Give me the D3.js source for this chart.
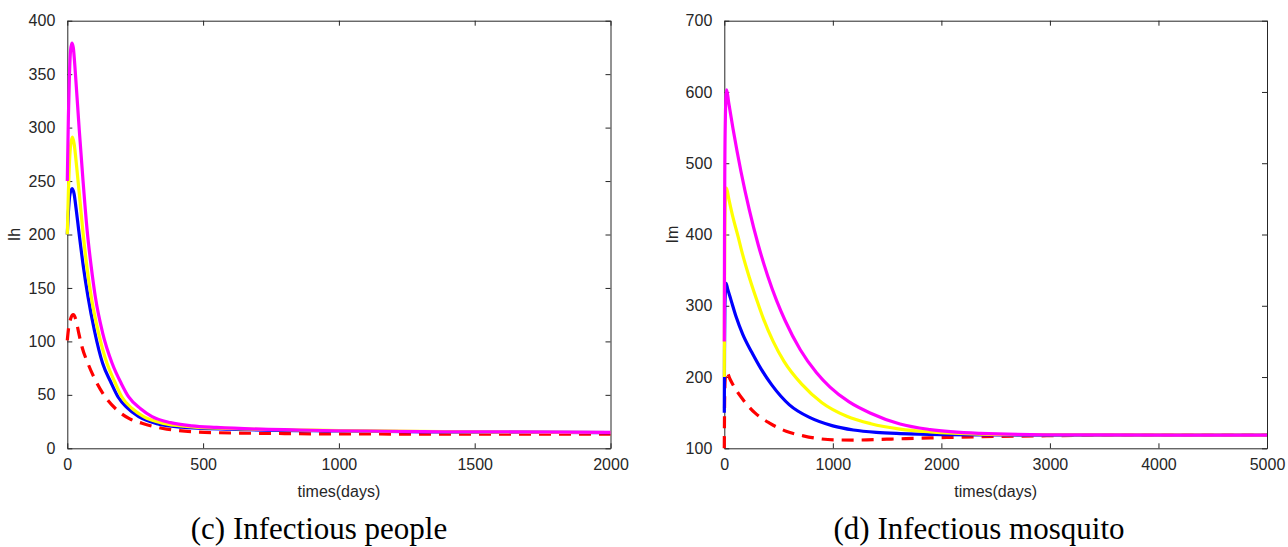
<!DOCTYPE html>
<html><head><meta charset="utf-8">
<script src="https://cdn.jsdelivr.net/npm/d3@7"></script>
<style>
body{margin:0;background:#fff}
</style>
</head><body>
<svg id="chart" width="1288" height="547"></svg>
<script>
// ---------- data: panel (c) Infectious people, Ih ----------
const ihXTicks = [0, 500, 1000, 1500, 2000];
const ihYTicks = [0, 50, 100, 150, 200, 250, 300, 350, 400];
const ihRed = [[0,101],[5,113],[12,121],[22,125],[32,120],[42,108],[54,95],[75,80],[103,64],[140,48],[183,35.8],[230,27.5],[275,23.4],[366,18],[550,14.6],[800,13.8],[1041,13.4],[1500,13.3],[2000,13.2]];
const ihBlue = [[0,200],[5,225],[10,238],[18,243],[25,238],[32,225],[42,204],[58,172],[76,142],[100,110],[130,79.5],[160,62],[187,48],[220,38],[263,29.6],[330,23],[420,19.8],[600,17.8],[1000,16.2],[1500,15.2],[2000,14.6]];
const ihYellow = [[0,200],[4,240],[8,268],[13,285],[19,291],[25,285],[35,262],[45,236],[57,204],[72,170],[88,142],[115,108],[146,79.5],[175,62],[201,48],[240,37],[281,29.6],[350,23.5],[450,20.3],[600,18.5],[1000,16.6],[1500,15.4],[2000,14.8]];
const ihMagenta = [[0,250],[4,310],[8,350],[12,372],[17,379],[22,375],[30,350],[44,298],[58,250],[73,204],[88,170],[103,142],[130,108],[165,79.5],[200,60],[226,48],[270,37],[312,29.6],[380,24],[459,21],[550,19.5],[857,17.1],[1409,15.5],[2000,14.9]];

// ---------- data: panel (d) Infectious mosquito, Im ----------
const imXTicks = [0, 1000, 2000, 3000, 4000, 5000];
const imYTicks = [100, 200, 300, 400, 500, 600, 700];
const imRed = [[0,100],[2,150],[5,185],[10,200],[22,207.5],[50,198],[100,184],[175,167.8],[280,150],[421,135],[570,124],[728,117.5],[850,114],[1005,111.8],[1200,111.5],[1497,112.8],[1896,114.5],[2357,116.3],[2971,117.6],[3500,118.3],[4000,118.5],[5000,118.5]];
const imBlue = [[0,150],[2,240],[5,295],[10,320],[16,331.5],[30,324],[60,309],[108,285],[170,260],[252,235],[340,211],[437,189],[600,161],[790,143],[1000,131.5],[1189,125.7],[1400,122.3],[1619,120.6],[2000,119.2],[2500,118.7],[3000,118.5],[5000,118.5]];
const imYellow = [[0,200],[2,330],[5,410],[10,448],[15,462],[20,465],[40,451],[80,424],[129,396],[160,377],[230,340],[313,302],[360,282],[450,250],[550,222],[713,190],[900,164],[1128,145],[1350,134.5],[1619,127],[1896,123],[2357,120],[2971,119],[3500,118.7],[5000,118.5]];
const imMagenta = [[0,250],[2,400],[5,500],[10,565],[16,595],[22,603],[40,585.4],[80,548.7],[154,488.1],[230,434.8],[313,385.3],[400,341.8],[483,306.8],[560,279.3],[700,238.3],[850,206],[974,185.9],[1150,165.1],[1343,149.6],[1619,134.1],[1896,126.3],[2357,121],[2971,119],[3500,118.7],[4200,118.6],[5000,118.5]];

const seriesStyle = [
  {key:"red", color:"#ff0000", dash:"12,8"},
  {key:"blue", color:"#0000ff", dash:null},
  {key:"yellow", color:"#ffff00", dash:null},
  {key:"magenta", color:"#ff00ff", dash:null}
];

const panels = [
  {left:67.3, right:610.5, top:20.7, bottom:448.3, xDomain:[0,2000], yDomain:[0,400],
   xTicks:ihXTicks, yTicks:ihYTicks, ylabel:"Ih", xlabel:"times(days)",
   caption:"(c) Infectious people", captionX:319, ylabelX:14,
   data:{red:ihRed, blue:ihBlue, yellow:ihYellow, magenta:ihMagenta}},
  {left:724.3, right:1267, top:20.7, bottom:448.3, xDomain:[0,5000], yDomain:[100,700],
   xTicks:imXTicks, yTicks:imYTicks, ylabel:"Im", xlabel:"times(days)",
   caption:"(d) Infectious mosquito", captionX:979, ylabelX:672,
   data:{red:imRed, blue:imBlue, yellow:imYellow, magenta:imMagenta}}
];

const sansFont = '"Liberation Sans", Arial, Helvetica, sans-serif';
const serifFont = '"Liberation Serif", "Times New Roman", serif';
const svg = d3.select("#chart");
svg.append("rect").attr("width",1288).attr("height",547).attr("fill","#fff");
const axisColor = "#262626";
const tickLen = 5;

panels.forEach(p => {
  const x = d3.scaleLinear().domain(p.xDomain).range([p.left, p.right]);
  const y = d3.scaleLinear().domain(p.yDomain).range([p.bottom, p.top]);
  const g = svg.append("g");

  // axes (inward ticks, box)
  const bottomAx = d3.axisBottom(x).tickValues(p.xTicks).tickSizeInner(-tickLen).tickSizeOuter(0).tickPadding(10).tickFormat(d3.format("d"));
  const topAx = d3.axisTop(x).tickValues(p.xTicks).tickSizeInner(-tickLen).tickSizeOuter(0).tickFormat("");
  const leftAx = d3.axisLeft(y).tickValues(p.yTicks).tickSizeInner(-tickLen).tickSizeOuter(0).tickPadding(12).tickFormat(d3.format("d"));
  const rightAx = d3.axisRight(y).tickValues(p.yTicks).tickSizeInner(-tickLen).tickSizeOuter(0).tickFormat("");

  const styleAx = sel => {
    sel.select(".domain").attr("stroke", axisColor).attr("stroke-width",1);
    sel.selectAll(".tick line").attr("stroke", axisColor).attr("stroke-width",1);
    sel.selectAll(".tick text").attr("fill", axisColor).attr("font-size", 16)
      .style("font-family", sansFont);
  };
  g.append("g").attr("transform",`translate(0,${p.bottom})`).call(bottomAx).call(styleAx);
  g.append("g").attr("transform",`translate(0,${p.top})`).call(topAx).call(styleAx);
  g.append("g").attr("transform",`translate(${p.left},0)`).call(leftAx).call(styleAx);
  g.append("g").attr("transform",`translate(${p.right},0)`).call(rightAx).call(styleAx);

  // series lines (drawn over the axes)
  const line = d3.line().x(d => x(d[0])).y(d => y(d[1])).curve(d3.curveMonotoneX);
  seriesStyle.forEach(s => {
    g.append("path").datum(p.data[s.key])
      .attr("d", line).attr("fill","none")
      .attr("stroke", s.color).attr("stroke-width", 3.2)
      .attr("stroke-dasharray", s.dash)
      .attr("stroke-linejoin","round");
  });

  // x label
  g.append("text").attr("x",(p.left+p.right)/2).attr("y",497)
    .attr("text-anchor","middle").attr("font-size",16).attr("fill",axisColor)
    .style("font-family", sansFont)
    .text(p.xlabel);
  // y label
  const ym = (p.top+p.bottom)/2;
  g.append("text").attr("transform",`translate(${p.ylabelX},${ym}) rotate(-90)`)
    .attr("text-anchor","middle").attr("dy","0.35em").attr("font-size",16).attr("fill",axisColor)
    .style("font-family", sansFont)
    .text(p.ylabel);
  // caption
  g.append("text").attr("x",p.captionX).attr("y",539)
    .attr("text-anchor","middle").attr("font-size",31).attr("fill","#000")
    .style("font-family", serifFont)
    .text(p.caption);
});
</script>
</body></html>
